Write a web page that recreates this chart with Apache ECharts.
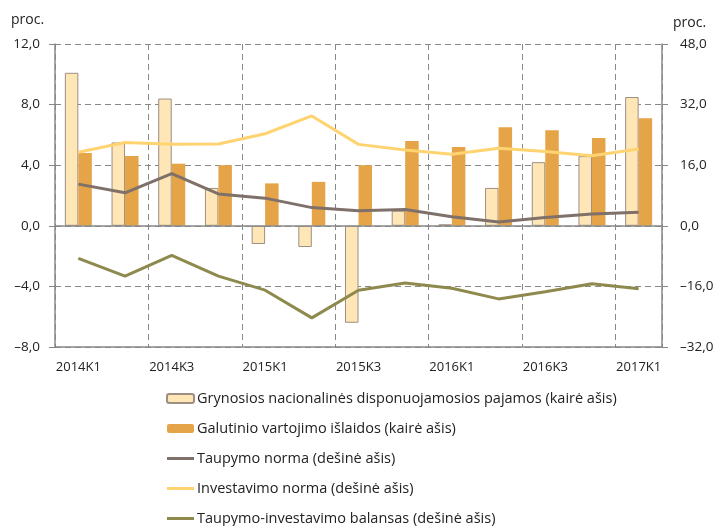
<!DOCTYPE html>
<html>
<head>
<meta charset="utf-8">
<script src="https://cdn.jsdelivr.net/npm/echarts@6/dist/echarts.min.js"></script>
<style>
html,body{margin:0;padding:0;background:#fff;}
#chart{width:718px;height:526px;}
</style>
</head>
<body>
<div id="chart"></div>
<script>
const categories = ['2014K1','2014K2','2014K3','2014K4','2015K1','2015K2','2015K3','2015K4','2016K1','2016K2','2016K3','2016K4','2017K1'];
const grynosios = [10.1, 5.5, 8.4, 2.5, -1.2, -1.4, -6.4, 1.0, 0.1, 2.5, 4.2, 4.6, 8.5];
const galutinio = [4.8, 4.6, 4.1, 4.0, 2.8, 2.9, 4.0, 5.6, 5.2, 6.5, 6.3, 5.8, 7.1];
const taupymo = [11.0, 8.7, 13.8, 8.4, 7.3, 4.8, 4.0, 4.3, 2.4, 1.0, 2.2, 3.1, 3.6];
const investavimo = [19.4, 22.0, 21.5, 21.6, 24.3, 29.0, 21.5, 20.0, 18.9, 20.5, 19.6, 18.5, 20.3];
const balansas = [-8.6, -13.3, -7.8, -13.3, -17.0, -24.3, -17.0, -15.1, -16.5, -19.3, -17.4, -15.3, -16.6];
const seriesNames = [
  'Grynosios nacionalinės disponuojamosios pajamos (kairė ašis)',
  'Galutinio vartojimo išlaidos (kairė ašis)',
  'Taupymo norma (dešinė ašis)',
  'Investavimo norma (dešinė ašis)',
  'Taupymo-investavimo balansas (dešinė ašis)'
];
const unitLabel = 'proc.';

const FONT = 'Open Sans';
const fmt = v => (v < 0 ? '–' : '') + Math.abs(v).toFixed(1).replace('.', ',');
const axisGray = '#888888';
const lineIcon = 'path://M0,0H27V3H0Z';

const chart = echarts.init(document.getElementById('chart'), null, {renderer: 'canvas'});
chart.setOption({
  animation: false,
  textStyle: {fontFamily: FONT},
  grid: {left: 55, right: 56, top: 44, bottom: 179, containLabel: false},
  xAxis: {
    type: 'category',
    data: categories,
    boundaryGap: true,
    axisLine: {onZero: false, lineStyle: {color: axisGray, width: 1.5}},
    axisTick: {show: false, interval: 1},
    axisLabel: {interval: 1, color: '#222', fontSize: 13, fontFamily: FONT, margin: 14},
    splitLine: {show: true, interval: 1, lineStyle: {color: axisGray, type: [6, 4], width: 1}}
  },
  yAxis: [
    {
      type: 'value', min: -8, max: 12, interval: 4, position: 'left',
      axisLine: {show: true, lineStyle: {color: axisGray, width: 1.5}},
      axisTick: {show: true, inside: false, length: 6, lineStyle: {color: axisGray}},
      axisLabel: {formatter: fmt, color: '#222', fontSize: 13.5, fontFamily: FONT, margin: 15},
      splitLine: {show: true, lineStyle: {color: axisGray, type: [6, 4], width: 1}}
    },
    {
      type: 'value', min: -32, max: 48, interval: 16, position: 'right',
      axisLine: {show: true, lineStyle: {color: axisGray, width: 1.5}},
      axisTick: {show: true, inside: false, length: 6, lineStyle: {color: axisGray}},
      axisLabel: {formatter: fmt, color: '#222', fontSize: 13.5, fontFamily: FONT, margin: 18},
      splitLine: {show: false}
    }
  ],
  graphic: [
    {type: 'text', left: 11, top: 13, style: {text: unitLabel, fontSize: 14, fontFamily: FONT, fill: '#222'}},
    {type: 'text', left: 673, top: 16, style: {text: unitLabel, fontSize: 14, fontFamily: FONT, fill: '#222'}}
  ],
  legend: {
    orient: 'vertical',
    left: 166, top: 391, height: 160, padding: 0,
    itemWidth: 27, itemHeight: 9, itemGap: 15,
    textStyle: {fontSize: 14.5, fontFamily: FONT, color: '#222', padding: [0, 0, 0, -2]},
    data: [
      {name: seriesNames[0]},
      {name: seriesNames[1]},
      {name: seriesNames[2], icon: lineIcon},
      {name: seriesNames[3], icon: lineIcon},
      {name: seriesNames[4], icon: lineIcon}
    ]
  },
  series: [
    {
      name: seriesNames[0], type: 'bar', yAxisIndex: 0, data: grynosios,
      barWidth: 13.5, barGap: '0%',
      itemStyle: {color: '#FEE6B6', borderColor: '#9d8f84', borderWidth: 1},
      markLine: {
        silent: true, symbol: 'none', label: {show: false},
        lineStyle: {color: axisGray, type: 'solid', width: 1.5},
        data: [{yAxis: 0}]
      }
    },
    {
      name: seriesNames[1], type: 'bar', yAxisIndex: 0, data: galutinio,
      barWidth: 13.5, barGap: '0%',
      itemStyle: {color: '#E5A448'}
    },
    {
      name: seriesNames[2], type: 'line', yAxisIndex: 1, data: taupymo,
      symbol: 'none', lineStyle: {color: '#7f716a', width: 3}, itemStyle: {color: '#7f716a'}
    },
    {
      name: seriesNames[3], type: 'line', yAxisIndex: 1, data: investavimo,
      symbol: 'none', lineStyle: {color: '#FFD470', width: 3}, itemStyle: {color: '#FFD470'}
    },
    {
      name: seriesNames[4], type: 'line', yAxisIndex: 1, data: balansas,
      symbol: 'none', lineStyle: {color: '#8e8a4e', width: 3}, itemStyle: {color: '#8e8a4e'}
    }
  ]
});
</script>
</body>
</html>
